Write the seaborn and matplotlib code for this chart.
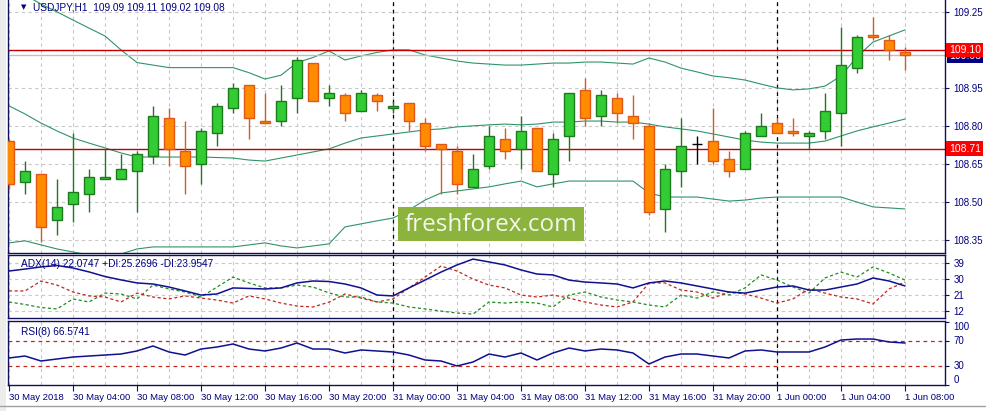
import numpy as np
import pandas as pd
import matplotlib
matplotlib.use("Agg")
import matplotlib.pyplot as plt
import matplotlib.transforms as mtransforms
from matplotlib.patches import Rectangle
import seaborn as sns

# ============ Data (USDJPY H1) ============
opens = [108.74, 108.58, 108.61, 108.43, 108.49, 108.53, 108.59, 108.59, 108.62, 108.68,
         108.83, 108.70, 108.65, 108.77, 108.87, 108.96, 108.82, 108.82, 108.91, 109.05,
         108.91, 108.92, 108.86, 108.92, 108.87, 108.89, 108.81, 108.73, 108.70, 108.56,
         108.64, 108.75, 108.71, 108.79, 108.61, 108.76, 108.94, 108.84, 108.91, 108.84,
         108.80, 108.47, 108.62, 108.73, 108.74, 108.67, 108.63, 108.76, 108.81, 108.78,
         108.76, 108.78, 108.85, 109.03, 109.16, 109.14, 109.09]
highs = [108.75, 108.66, 108.61, 108.59, 108.77, 108.63, 108.71, 108.69, 108.70, 108.88,
         108.87, 108.82, 108.79, 108.89, 108.97, 108.96, 108.93, 108.96, 109.07, 109.05,
         108.96, 108.93, 108.94, 108.93, 108.90, 108.89, 108.83, 108.73, 108.72, 108.69,
         108.80, 108.79, 108.84, 108.79, 108.77, 108.93, 108.99, 108.94, 108.93, 108.92,
         108.81, 108.65, 108.83, 108.76, 108.87, 108.70, 108.78, 108.85, 108.83, 108.83,
         108.78, 108.93, 109.19, 109.16, 109.23, 109.16, 109.11]
lows = [108.55, 108.53, 108.34, 108.37, 108.42, 108.46, 108.59, 108.59, 108.46, 108.65,
        108.64, 108.53, 108.57, 108.72, 108.85, 108.75, 108.81, 108.80, 108.85, 108.90,
        108.88, 108.82, 108.86, 108.86, 108.85, 108.78, 108.70, 108.53, 108.53, 108.56,
        108.63, 108.67, 108.63, 108.62, 108.56, 108.66, 108.80, 108.80, 108.81, 108.75,
        108.45, 108.38, 108.56, 108.65, 108.65, 108.60, 108.63, 108.76, 108.77, 108.76,
        108.71, 108.75, 108.72, 109.01, 109.14, 109.06, 109.02]
closes = [108.57, 108.62, 108.40, 108.48, 108.54, 108.60, 108.60, 108.63, 108.69, 108.84,
          108.71, 108.64, 108.78, 108.88, 108.95, 108.83, 108.81, 108.90, 109.06, 108.90,
          108.93, 108.85, 108.93, 108.90, 108.88, 108.82, 108.72, 108.71, 108.57, 108.63,
          108.76, 108.70, 108.78, 108.62, 108.75, 108.93, 108.83, 108.92, 108.85, 108.81,
          108.46, 108.63, 108.72, 108.73, 108.66, 108.62, 108.77, 108.80, 108.77, 108.77,
          108.77, 108.86, 109.04, 109.15, 109.15, 109.10, 109.08]

bb_upper = [109.35, 109.317, 109.281, 109.25, 109.218, 109.186, 109.155, 109.10, 109.05, 109.04,
            109.03, 109.03, 109.03, 109.03, 109.03, 109.01, 108.985, 109.0, 109.05, 109.07,
            109.096, 109.06, 109.076, 109.09, 109.10, 109.10, 109.08, 109.068, 109.056, 109.048,
            109.044, 109.04, 109.04, 109.044, 109.048, 109.048, 109.052, 109.052, 109.048, 109.044,
            109.068, 109.052, 109.028, 109.013, 108.997, 108.99, 108.981, 108.965, 108.95, 108.942,
            108.946, 108.957, 108.997, 109.072, 109.131, 109.155, 109.179]
bb_middle = [108.879, 108.847, 108.811, 108.78, 108.752, 108.732, 108.713, 108.693, 108.677, 108.677,
             108.677, 108.677, 108.677, 108.675, 108.673, 108.665, 108.661, 108.673, 108.685, 108.697,
             108.709, 108.732, 108.752, 108.76, 108.768, 108.776, 108.784, 108.788, 108.796, 108.80,
             108.804, 108.807, 108.804, 108.807, 108.815, 108.815, 108.819, 108.819, 108.815, 108.815,
             108.807, 108.796, 108.788, 108.78, 108.768, 108.756, 108.744, 108.736, 108.732, 108.732,
             108.732, 108.74, 108.76, 108.78, 108.796, 108.811, 108.827]
bb_lower = [108.338, 108.346, 108.33, 108.314, 108.302, 108.29, 108.286, 108.294, 108.314, 108.322,
            108.322, 108.322, 108.322, 108.322, 108.322, 108.33, 108.338, 108.326, 108.318, 108.326,
            108.334, 108.401, 108.413, 108.425, 108.436, 108.468, 108.507, 108.535, 108.543, 108.551,
            108.559, 108.571, 108.582, 108.559, 108.571, 108.582, 108.582, 108.582, 108.582, 108.582,
            108.535, 108.519, 108.519, 108.519, 108.511, 108.503, 108.507, 108.515, 108.519, 108.519,
            108.519, 108.519, 108.519, 108.499, 108.48, 108.476, 108.472]

adx = [34.5, 35.6, 36.8, 37.6, 36.2, 34.0, 31.4, 29.5, 27.8, 27.2,
       25.5, 23.3, 21.0, 21.6, 25.0, 24.7, 24.4, 25.0, 27.8, 28.9,
       28.6, 27.2, 25.0, 21.0, 20.5, 25.0, 29.4, 33.9, 37.9, 41.2,
       39.6, 37.9, 35.1, 32.8, 32.3, 29.4, 28.3, 27.8, 27.2, 25.0,
       27.8, 28.9, 27.8, 26.1, 24.4, 22.7, 22.1, 23.8, 25.5, 26.1,
       23.8, 23.8, 25.5, 27.2, 30.6, 28.9, 26.1]
plus_di = [17.1, 15.7, 14.0, 13.2, 18.8, 17.1, 22.1, 21.6, 18.8, 26.6,
           24.4, 22.7, 19.9, 25.5, 31.1, 27.8, 25.0, 25.0, 26.6, 25.5,
           22.2, 19.9, 19.9, 17.1, 16.5, 14.3, 13.2, 12.0, 10.9, 10.3,
           17.1, 16.5, 17.1, 16.5, 14.3, 21.0, 22.7, 19.9, 18.2, 17.1,
           15.4, 14.3, 21.0, 19.3, 22.7, 21.0, 25.0, 32.3, 29.4, 25.5,
           22.1, 30.6, 33.9, 31.1, 36.8, 33.4, 29.4]
minus_di = [23.3, 23.3, 28.9, 26.6, 22.7, 20.5, 19.9, 17.1, 22.1, 19.9,
            18.8, 20.5, 19.3, 18.2, 16.5, 20.5, 18.8, 16.5, 14.8, 14.3,
            17.0, 21.6, 19.3, 17.1, 18.8, 25.0, 31.1, 37.3, 34.5, 30.0,
            26.6, 25.0, 21.0, 19.9, 21.0, 19.3, 17.1, 15.4, 14.3, 17.1,
            27.8, 27.8, 23.8, 22.7, 19.3, 22.7, 21.6, 19.3, 16.5, 18.8,
            24.4, 22.1, 19.9, 18.8, 16.0, 24.4, 28.3]
rsi = [42.9, 46.0, 38.1, 41.3, 44.4, 46.0, 47.6, 49.2, 54.0, 61.9,
       52.4, 47.6, 57.1, 60.3, 65.1, 57.1, 54.0, 58.7, 66.7, 57.1,
       57.1, 50.8, 55.6, 54.0, 52.4, 47.6, 39.7, 38.1, 30.2, 36.5,
       49.2, 44.4, 50.8, 39.7, 50.8, 58.7, 54.0, 57.1, 55.6, 50.8,
       33.3, 44.4, 49.2, 49.2, 46.0, 42.9, 54.0, 55.6, 52.4, 52.4,
       52.4, 60.3, 71.4, 73.0, 73.0, 68.3, 66.7]

time_labels = ["30 May 2018", "30 May 04:00", "30 May 08:00", "30 May 12:00", "30 May 16:00",
               "30 May 20:00", "31 May 00:00", "31 May 04:00", "31 May 08:00", "31 May 12:00",
               "31 May 16:00", "31 May 20:00", "1 Jun 00:00", "1 Jun 04:00", "1 Jun 08:00"]
day_breaks = [24, 48]
price_ticks = [109.25, 109.10, 108.95, 108.80, 108.65, 108.50, 108.35]
adx_ticks = [39, 30, 21, 12]
rsi_ticks = [100, 70, 30, 0]
level_lines = [109.10, 108.71]
bid = 109.08

df = pd.DataFrame({"bar": np.arange(len(closes)), "open": opens, "high": highs, "low": lows,
                   "close": closes, "bb_up": bb_upper, "bb_mid": bb_middle, "bb_low": bb_lower,
                   "adx": adx, "pdi": plus_di, "mdi": minus_di, "rsi": rsi})

# ============ Style ============
sns.set_style("white")
plt.rcParams["font.family"] = ["Liberation Sans", "DejaVu Sans"]
NAVY = "#000080"
GRID = "#c8c8c8"
SPINE = "#10105a"
DASH = (0, (3, 3))
FS = 7

W, H = 987, 411
fig = plt.figure(figsize=(W / 100, H / 100), dpi=100)
fig.patch.set_facecolor("white")


def px_rect(x0, y0, x1, y1):
    return [x0 / W, 1 - y1 / H, (x1 - x0) / W, (y1 - y0) / H]


ax = fig.add_axes(px_rect(8, 0, 945, 253))
ax_adx = fig.add_axes(px_rect(8, 255, 945, 318))
ax_rsi = fig.add_axes(px_rect(8, 321, 945, 385))
xlim = (-1 / 16, 936 / 16)

for a in (ax, ax_adx, ax_rsi):
    a.set_xlim(*xlim)
    a.set_facecolor("white")
    for s in a.spines.values():
        s.set_color(SPINE)
        s.set_linewidth(1)
    a.yaxis.tick_right()
    a.tick_params(axis="y", length=3, width=0.8, color=SPINE, labelsize=FS,
                  labelcolor=NAVY, pad=3)
    for g in range(0, len(closes) + 1, 2):
        a.axvline(g, color=GRID, lw=0.8, ls=DASH, zorder=0)
    for d in day_breaks:
        a.axvline(d, color="black", lw=0.9, ls=DASH, zorder=1)
ax.spines["top"].set_visible(False)

# ---------- Main price panel ----------
ax.set_ylim(108.298, 109.297)
ax.set_yticks(price_ticks)
# the 109.10 scale label sits under the red level box, so it is left blank
ax.set_yticklabels(["" if p in level_lines else f"{p:.2f}" for p in price_ticks])
ax.set_xticks([])
for p in price_ticks:
    ax.axhline(p, color=GRID, lw=0.8, ls=DASH, zorder=0)

for col in ("bb_up", "bb_mid", "bb_low"):
    sns.lineplot(data=df, x="bar", y=col, ax=ax, color="#2e9466", lw=0.8, zorder=2)
ax.set_xlabel("")
ax.set_ylabel("")
ax.axhline(bid, color="#c0c0c0", lw=1, zorder=2)
for lv in level_lines:
    ax.axhline(lv, color="#c00000", lw=1, zorder=2)

up = df["close"] > df["open"]
down = df["close"] < df["open"]
flat = df["close"] == df["open"]
body_w = 0.66
for mask, fill, edge in ((up, "#32cd32", "#1f7a1f"), (down, "#ff8c00", "#e0571a")):
    sub = df[mask]
    ax.vlines(sub["bar"], sub["low"], sub["high"], colors=edge, lw=1, zorder=3)
    bottom = np.minimum(sub["open"], sub["close"])
    height = np.maximum(np.abs(sub["close"] - sub["open"]), 0.003)
    ax.bar(sub["bar"], height, bottom=bottom, width=body_w, color=fill,
           edgecolor=edge, linewidth=1, zorder=4)
sub = df[flat]
ax.vlines(sub["bar"], sub["low"], sub["high"], colors="black", lw=1, zorder=3)
ax.hlines(sub["close"], sub["bar"] - body_w / 2, sub["bar"] + body_w / 2, colors="black",
          lw=1, zorder=4)

# price boxes on the right scale
tr = mtransforms.blended_transform_factory(ax.transAxes, ax.transData)
ax.text(1.004, bid - 0.006, f"{bid:.2f}", transform=tr, fontsize=FS + 0.5, color="white",
        va="center", ha="left", zorder=5, clip_on=False,
        bbox=dict(boxstyle="square,pad=0.18", fc=NAVY, ec="none"))
for lv in level_lines:
    ax.text(1.004, lv, f"{lv:.2f}", transform=tr, fontsize=FS + 0.5, color="white",
            va="center", ha="left", zorder=6, clip_on=False,
            bbox=dict(boxstyle="square,pad=0.22", fc="#ff0000", ec="none"))

ax.text(13 / 937, 0.984, "\u25bc", transform=ax.transAxes, fontsize=5, color=NAVY,
        va="top", ha="left", family="DejaVu Sans")
ax.text(25 / 937, 0.99, "USDJPY,H1  109.09 109.11 109.02 109.08", transform=ax.transAxes,
        fontsize=FS + 0.3, color=NAVY, va="top", ha="left")

# ---------- ADX panel ----------
ax_adx.set_ylim(8.1, 43.5)
ax_adx.set_yticks(adx_ticks)
ax_adx.set_xticks([])
for t in adx_ticks:
    ax_adx.axhline(t, color=GRID, lw=0.8, ls=DASH, zorder=0)
sns.lineplot(data=df, x="bar", y="pdi", ax=ax_adx, color="#1e8c1e", lw=0.9,
             linestyle=(0, (2.5, 2)), zorder=2)
sns.lineplot(data=df, x="bar", y="mdi", ax=ax_adx, color="#c0281e", lw=0.9,
             linestyle=(0, (2.5, 2)), zorder=2)
sns.lineplot(data=df, x="bar", y="adx", ax=ax_adx, color="#101090", lw=1.1, zorder=3)
ax_adx.set_xlabel("")
ax_adx.set_ylabel("")
ax_adx.text(13 / 937, 0.93, "ADX(14) 22.0747 +DI:25.2696 -DI:23.9547", transform=ax_adx.transAxes,
            fontsize=FS + 0.3, color=NAVY, va="top", ha="left")

# ---------- RSI panel ----------
ax_rsi.set_ylim(0, 101.6)
ax_rsi.set_yticks(rsi_ticks)
for lbl, va in zip(ax_rsi.get_yticklabels(), ["top", "center", "center", "bottom"]):
    lbl.set_verticalalignment(va)
for lv in (70, 30):
    ax_rsi.axhline(lv, color="#c0281e", lw=0.9, ls=DASH, zorder=1)
sns.lineplot(data=df, x="bar", y="rsi", ax=ax_rsi, color="#101090", lw=1.1, zorder=3)
ax_rsi.set_xlabel("")
ax_rsi.set_ylabel("")
ax_rsi.text(13 / 937, 0.9, "RSI(8) 66.5741", transform=ax_rsi.transAxes,
            fontsize=FS + 0.3, color=NAVY, va="top", ha="left")
ax_rsi.set_xlim(*xlim)
ax_rsi.set_xticks(np.arange(0, len(closes), 4))
ax_rsi.set_xticklabels(time_labels)
ax_rsi.tick_params(axis="x", length=4, width=0.8, color=SPINE, labelsize=6.8,
                   labelcolor=NAVY, pad=2, direction="out", bottom=True)
for lbl in ax_rsi.get_xticklabels():
    lbl.set_horizontalalignment("left")

# ---------- Window decorations ----------
fig.patches.append(Rectangle((0, 0), 6 / W, 1, transform=fig.transFigure,
                             fc="#ececec", ec="none", zorder=0))
fig.add_artist(plt.Line2D([0, 1], [1 - 406 / H] * 2, transform=fig.transFigure,
                          color="#a0a0a0", lw=1))

# watermark
fig.patches.append(Rectangle((398 / W, 1 - 241 / H), 186 / W, 34 / H, transform=fig.transFigure,
                             fc="#8db33f", ec="none", zorder=10))
fig.text(491 / W, 1 - 225 / H, "freshforex.com", fontsize=17.5, family="Open Sans",
         color="#f3f7ea", ha="center", va="center", zorder=11)

fig.savefig("out.png", dpi=100, facecolor="white")
